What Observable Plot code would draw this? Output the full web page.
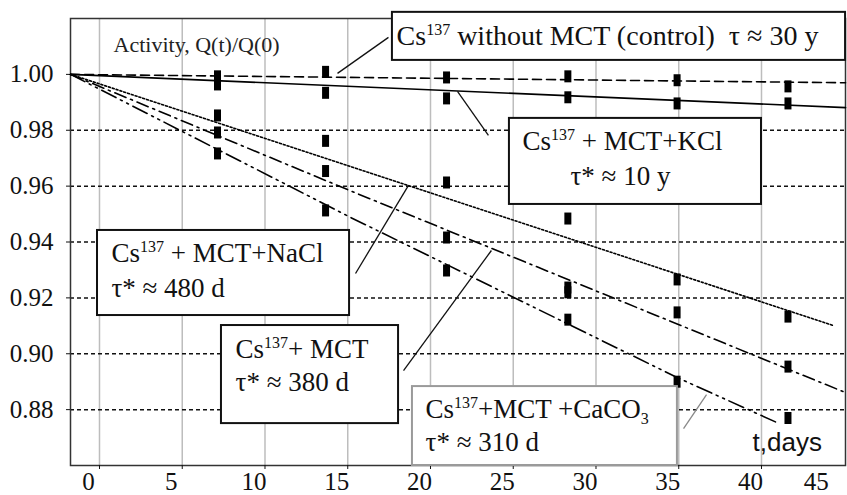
<!DOCTYPE html>
<html><head><meta charset="utf-8">
<script src="https://cdn.jsdelivr.net/npm/d3@7"></script>
<script src="https://cdn.jsdelivr.net/npm/@observablehq/plot@0.6"></script>
<style>
html,body{margin:0;padding:0;background:#fff;}
svg{display:block;}
</style>
</head><body><div id="chart"></div>
<script>
// ---------- tick values ----------
const xTicks = [0, 5, 10, 15, 20, 25, 30, 35, 40];
const xLastTick = [45];
const yTicks = [0.88, 0.90, 0.92, 0.94, 0.96, 0.98, 1.00];
const yGrid = [0.88, 0.90, 0.92, 0.94, 0.96, 0.98];

// ---------- measured points (days, Q(t)/Q(0)) ----------
const measureDays = [7.13, 13.66, 20.97, 28.3, 34.9, 41.6];
const controlPts = [0.9993, 1.0009, 0.9989, 0.9993, 0.9979, 0.9957];
const kclPts     = [0.9964, 0.9934, 0.9914, 0.9918, 0.9896, 0.9896];
const naclPts    = [0.9853, 0.9762, 0.9613, 0.9484, 0.9266, 0.9133];
const mctPts     = [0.9792, 0.9654, 0.9416, 0.9237, 0.9148, 0.8954];
const caco3Pts   = [0.9717, 0.9513, 0.9298, 0.9122, 0.8900, 0.8770];
const extraDays  = [28.3];
const extraPts   = [0.9220];

// ---------- fitted curves ----------
const controlFitT = [-1.75, 45.08], controlFitQ = [1.0, 0.9970];
const kclFitT     = [-1.75, 45.08], kclFitQ     = [1.0, 0.9881];
const naclFitT    = [-1.75, 44.35], naclFitQ    = [1.0, 0.9101];
const mctFitT     = [-1.75, 15.17, 45.08], mctFitQ = [1.0, 0.9583, 0.8861];
const caco3FitT   = [-1.75, 15.17, 34.9, 41.0], caco3FitQ = [1.0, 0.9488, 0.8915, 0.8752];

// ---------- annotation boxes (data units) ----------
const boxX1 = [17.70, 24.77, -0.12, 7.37, 18.91];
const boxX2 = [45.08, 40.00, 15.11, 18.07, 34.92];
const boxY1 = [1.0222, 0.98424, 0.94413, 0.91010, 0.88825];
const boxY2 = [1.0050, 0.95344, 0.91368, 0.87500, 0.86000];
const boxStroke = ["#111", "#111", "#111", "#111", "#9a9a9a"];

// ---------- annotation texts ----------
const labelTexts = [
  "Cs^{137} without MCT (control)\u00a0 τ ≈ 30 y",
  "Cs^{137} + MCT+KCl", "τ* ≈ 10 y",
  "Cs^{137} + MCT+NaCl", "τ* ≈ 480 d",
  "Cs^{137}+ MCT", "τ* ≈ 380 d",
  "Cs^{137}+MCT +CaCO_{3}", "τ* ≈ 310 d"
];
const labelSize = [28, 27, 27, 27, 27, 27, 27, 27, 27];
const labelX = [17.95, 25.56, 28.46, 0.72, 0.72, 8.22, 8.22, 19.70, 19.70];
const labelY = [1.0104, 0.97278, 0.96024, 0.93267, 0.92020, 0.89864, 0.88682, 0.87715, 0.86533];

// ---------- leader lines ----------
const leadX1 = [14.38, 21.63, 15.47, 18.37, 35.29];
const leadY1 = [1.00036, 0.99391, 0.92872, 0.8940, 0.8732];
const leadX2 = [17.46, 23.50, 18.67, 23.68, 36.68];
const leadY2 = [1.01325, 0.97815, 0.96024, 0.93696, 0.8854];
const leadStroke = ["#111", "#111", "#111", "#111", "#888"];

// ---------- build tables ----------
const series = [
  {name: "control", t: controlFitT, q: controlFitQ, dash: "9,5"},
  {name: "kcl", t: kclFitT, q: kclFitQ, dash: null},
  {name: "nacl", t: naclFitT, q: naclFitQ, dash: "2,2"},
  {name: "mct", t: mctFitT, q: mctFitQ, dash: "12,5,2,5"},
  {name: "caco3", t: caco3FitT, q: caco3FitQ, dash: "16,5,2,5,2,5"}
];
const points = [];
for (const arr of [controlPts, kclPts, naclPts, mctPts, caco3Pts])
  arr.forEach((q, i) => points.push({t: measureDays[i], q}));
extraPts.forEach((q, i) => points.push({t: extraDays[i], q}));

const boxes = boxX1.map((x1, i) => ({x1, x2: boxX2[i], y1: boxY1[i], y2: boxY2[i], stroke: boxStroke[i]}));
const labels = labelTexts.map((text, i) => ({text, x: labelX[i], y: labelY[i], size: labelSize[i]}));
const leaders = leadX1.map((x1, i) => ({x1, y1: leadY1[i], x2: leadX2[i], y2: leadY2[i], stroke: leadStroke[i]}));

const barSymbol = {draw(ctx) { ctx.rect(-3.5, -6, 7, 12); }};
const serif = "Liberation Serif, Times New Roman, serif";
const sans = "Liberation Sans, Arial, sans-serif";

const marks = [
  Plot.gridX(xTicks, {stroke: "#bdbdbd", strokeOpacity: 1, strokeWidth: 1.5}),
  Plot.gridY(yGrid, {stroke: "#111", strokeOpacity: 1, strokeWidth: 1.5, strokeDasharray: "4,3"}),
  Plot.frame({stroke: "#333", strokeWidth: 1.5}),
  Plot.axisY(yTicks, {tickSize: 4, tickPadding: 13, tickFormat: d => d.toFixed(2), fontSize: 25, fontFamily: serif, label: null}),
  Plot.axisX(xTicks, {tickSize: 4, tickFormat: () => "", label: null}),
  Plot.axisX(xTicks, {tickSize: 0, tickPadding: 7, dx: -11, fontSize: 25, fontFamily: serif, label: null}),
  Plot.axisX(xLastTick, {tickSize: 0, tickPadding: 7, dx: -28, fontSize: 25, fontFamily: serif, label: null}),
  ...series.map(s => Plot.line(s.t.map((t, i) => ({t, q: s.q[i]})), {
    x: "t", y: "q", stroke: "#000", strokeWidth: 1.6, strokeDasharray: s.dash
  })),
  Plot.dot(points, {x: "t", y: "q", symbol: barSymbol, fill: "#000", stroke: null, r: 3}),
  Plot.link(leaders, {x1: "x1", y1: "y1", x2: "x2", y2: "y2", stroke: "stroke", strokeWidth: 1.3}),
  Plot.rect(boxes, {x1: "x1", x2: "x2", y1: "y1", y2: "y2", fill: "white", stroke: "stroke", strokeWidth: 2}),
  Plot.text(labels.filter(d => d.size === 28), {x: "x", y: "y", text: "text", textAnchor: "start", lineAnchor: "bottom", fontSize: 28, fontFamily: serif, fill: "#111"}),
  Plot.text(labels.filter(d => d.size === 27), {x: "x", y: "y", text: "text", textAnchor: "start", lineAnchor: "bottom", fontSize: 27, fontFamily: serif, fill: "#111"}),
  Plot.text(["Activity, Q(t)/Q(0)"], {x: 0.85, y: 1.0079, text: d => d, textAnchor: "start", lineAnchor: "bottom", fontSize: 22, fontFamily: serif, fill: "#222"}),
  Plot.text(["t,days"], {x: 39.46, y: 0.86533, text: d => d, textAnchor: "start", lineAnchor: "bottom", fontSize: 26, fontFamily: sans, fill: "#111"})
];

const chart = Plot.plot({
  width: 847, height: 495,
  marginLeft: 70, marginRight: 2, marginTop: 18, marginBottom: 30,
  x: {domain: [-1.752, 45.076]},
  y: {domain: [0.86, 1.02]},
  style: {fontFamily: serif, fontSize: "25px", background: "white", color: "#111", overflow: "visible"},
  marks
});

// superscript / subscript rendering as real tspans
function richText(svg) {
  svg.querySelectorAll("text").forEach(el => {
    const s = el.textContent;
    if (!/[\^_]\{/.test(s)) return;
    const parts = []; const re = /([\^_])\{([^}]*)\}/g; let last = 0, m;
    while ((m = re.exec(s))) {
      if (m.index > last) parts.push({t: s.slice(last, m.index)});
      parts.push({t: m[2], k: m[1]});
      last = re.lastIndex;
    }
    if (last < s.length) parts.push({t: s.slice(last)});
    el.textContent = "";
    let off = 0;
    for (const p of parts) {
      const ts = document.createElementNS("http://www.w3.org/2000/svg", "tspan");
      ts.textContent = p.t;
      const target = p.k === "^" ? -10 : p.k === "_" ? 6 : 0;
      if (target !== off) ts.setAttribute("dy", target - off);
      off = target;
      if (p.k) ts.setAttribute("font-size", 16);
      el.appendChild(ts);
    }
  });
}
richText(chart);
document.getElementById("chart").appendChild(chart);
</script>
</body></html>
